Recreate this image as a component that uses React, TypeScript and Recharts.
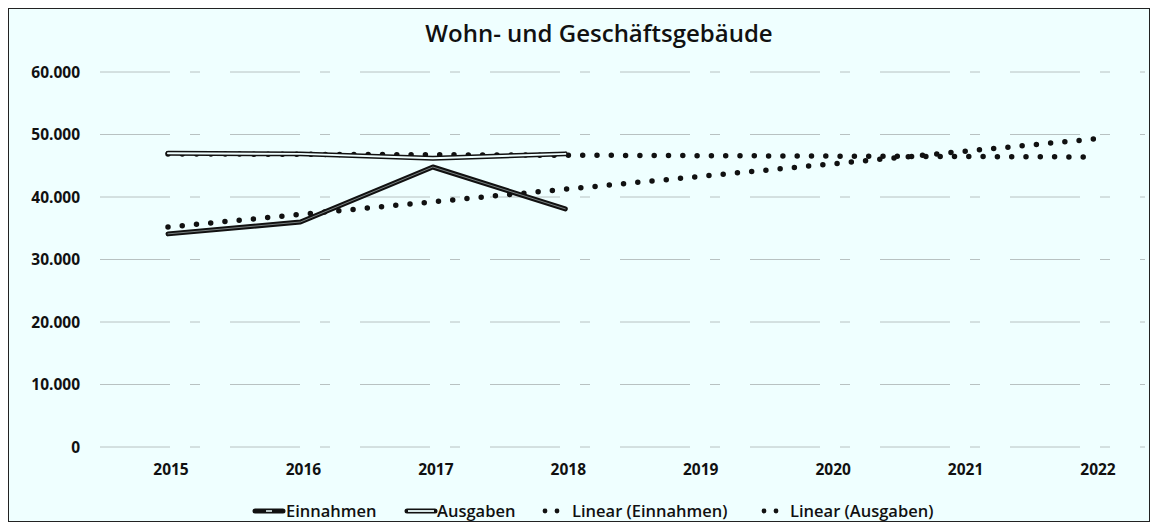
import { CartesianGrid, Line, LineChart, XAxis, YAxis } from 'recharts';

const years = ['2015', '2016', '2017', '2018', '2019', '2020', '2021', '2022'];
const einnahmen = [34100, 36000, 44800, 38100, null, null, null, null];
const ausgaben = [47000, 46900, 46200, 46900, null, null, null, null];
// trend lines: only the endpoints, straight line between
const trendEinnahmen = [35200, null, null, null, null, null, null, 49300];
const trendAusgaben = [46900, null, null, null, null, null, null, 46400];
const yTicks = [0, 10000, 20000, 30000, 40000, 50000, 60000];

const chartData = years.map((year, i) => ({
  year,
  einnahmen: einnahmen[i],
  ausgaben: ausgaben[i],
  trendEinnahmen: trendEinnahmen[i],
  trendAusgaben: trendAusgaben[i],
}));

const bg = '#efffff';
const ink = '#111';
const font = '"Open Sans", Lato, sans-serif';

const formatDe = (v: number) => {
  if (v === 0) return '0';
  const s = String(v);
  return s.slice(0, s.length - 3) + '.' + s.slice(-3);
};

function YTick(props: any) {
  const { y, payload } = props;
  return (
    <text x={80} y={y} dy={5.5} textAnchor="end" fontFamily={font} fontWeight={700} fontSize={15.5} fill={ink}>
      {formatDe(payload.value)}
    </text>
  );
}

function XTick(props: any) {
  const { x, y, payload } = props;
  return (
    <text x={x + 3} y={y} dy={20} textAnchor="middle" fontFamily={font} fontWeight={700} fontSize={15.5} fill={ink}>
      {payload.value}
    </text>
  );
}

function ChartLegend() {
  const text = { position: 'absolute', top: 0, fontFamily: font, fontWeight: 600, fontSize: 16.5, color: ink, whiteSpace: 'nowrap' } as const;
  const icon = { position: 'absolute', top: 6 } as const;
  const dots = (left: number) => (
    <svg width={24} height={12} style={{ ...icon, left }}>
      <circle cx={5} cy={6} r={2.4} fill={ink} />
      <circle cx={17} cy={6} r={2.4} fill={ink} />
    </svg>
  );
  return (
    <div style={{ position: 'absolute', left: 0, top: 499, width: 1153, height: 24 }}>
      <svg width={34} height={12} style={{ ...icon, left: 252 }}>
        <line x1={3} y1={6} x2={31} y2={6} stroke={ink} strokeWidth={5} strokeLinecap="round" />
        <line x1={14} y1={6} x2={20} y2={6} stroke={bg} strokeWidth={1.5} />
      </svg>
      <span style={{ ...text, left: 286 }}>Einnahmen</span>
      <svg width={34} height={12} style={{ ...icon, left: 404 }}>
        <line x1={3} y1={6} x2={31} y2={6} stroke={ink} strokeWidth={5} strokeLinecap="round" />
        <line x1={4} y1={6} x2={30} y2={6} stroke={bg} strokeWidth={1.8} />
      </svg>
      <span style={{ ...text, left: 437 }}>Ausgaben</span>
      {dots(540)}
      <span style={{ ...text, left: 572 }}>Linear (Einnahmen)</span>
      {dots(759)}
      <span style={{ ...text, left: 790 }}>Linear (Ausgaben)</span>
    </div>
  );
}

export default function App() {
  return (
    <div style={{ position: 'fixed', left: 0, top: 0, width: 1153, height: 525, background: '#fff' }}>
      <div
        style={{
          position: 'absolute',
          left: 8,
          top: 8,
          width: 1140,
          height: 512,
          background: bg,
          border: '1.5px solid #222',
        }}
      />
      <div
        style={{
          position: 'absolute',
          left: 0,
          top: 16,
          width: 1198,
          textAlign: 'center',
          fontFamily: font,
          fontWeight: 600,
          fontSize: 24,
          color: ink,
        }}
      >
        Wohn- und Geschäftsgebäude
      </div>
      <div style={{ position: 'absolute', left: 0, top: 0 }}>
        <LineChart width={1153} height={525} data={chartData} margin={{ top: 72, right: 8, bottom: 48, left: 0 }}>
          <CartesianGrid vertical={false} stroke="#b8c2c2" strokeDasharray="70 20 10 30" />
          <XAxis
            dataKey="year"
            axisLine={false}
            tickLine={false}
            tick={<XTick />}
            padding={{ left: 68, right: 50 }}
            height={30}
          />
          <YAxis
            width={100}
            domain={[0, 60000]}
            ticks={yTicks}
            axisLine={false}
            tickLine={false}
            tick={<YTick />}
          />
          <Line dataKey="trendEinnahmen" stroke={ink} strokeWidth={5.5} strokeDasharray="0 14.3" strokeLinecap="round" dot={false} connectNulls isAnimationActive={false} />
          <Line dataKey="trendAusgaben" stroke={ink} strokeWidth={5.5} strokeDasharray="0 14.3" strokeLinecap="round" dot={false} connectNulls isAnimationActive={false} />
          <Line dataKey="ausgaben" stroke={ink} strokeWidth={5} strokeLinecap="round" strokeLinejoin="round" dot={false} isAnimationActive={false} />
          <Line dataKey="ausgaben" stroke={bg} strokeWidth={2} strokeLinecap="round" dot={false} isAnimationActive={false} />
          <Line dataKey="einnahmen" stroke={ink} strokeWidth={5} strokeLinecap="round" strokeLinejoin="round" dot={false} isAnimationActive={false} />
          <Line dataKey="einnahmen" stroke={bg} strokeWidth={0.8} strokeOpacity={0.6} strokeLinecap="round" dot={false} isAnimationActive={false} />
        </LineChart>
      </div>
      <ChartLegend />
    </div>
  );
}
